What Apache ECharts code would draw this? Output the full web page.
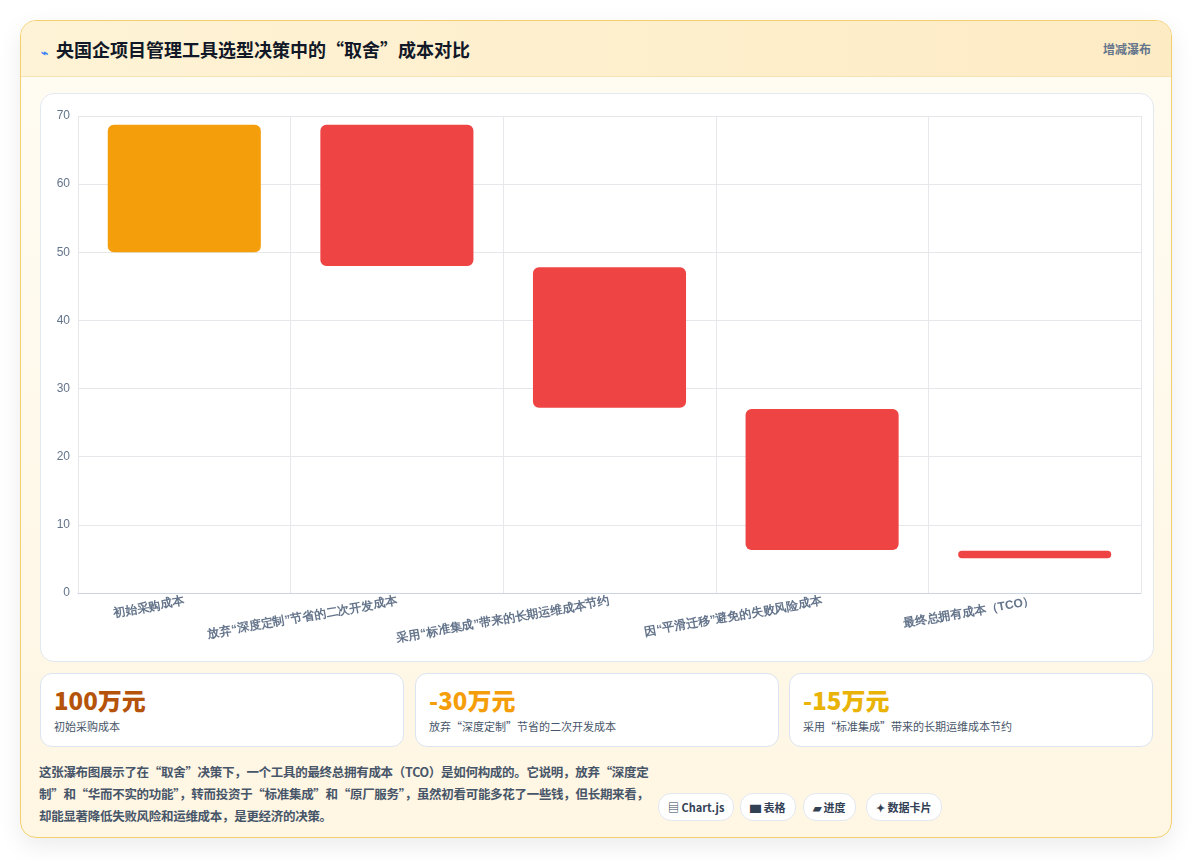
<!DOCTYPE html>
<html><head><meta charset="utf-8">
<script src="https://cdn.jsdelivr.net/npm/echarts@6/dist/echarts.min.js"></script>
<style>
body{margin:0;background:#fff;font-family:"Noto Sans CJK SC","Noto Sans",sans-serif;}
.card{position:absolute;left:20px;top:20px;width:1150px;height:816px;border:1px solid #f3cf6e;border-radius:16px;background:linear-gradient(#fffcf3,#fff6e3);box-shadow:0 8px 24px rgba(0,0,0,.08);overflow:hidden}
.head{height:55px;background:linear-gradient(90deg,#fef3d6,#fdebc4);border-bottom:1px solid #f6e3b5;display:flex;align-items:center;padding:0 20px;justify-content:space-between}
.head h1{margin:0;font-size:18px;font-weight:700;color:#111827}
.head span{font-size:12px;color:#64748b;font-weight:700}
.panel{position:absolute;left:19px;top:72px;width:1112px;height:567px;background:#fff;border:1px solid #e2e8f0;border-radius:14px}
#chart{position:absolute;left:0;top:0;width:1112px;height:567px}
.stat{position:absolute;top:652px;width:362px;height:72px;background:#fff;border:1px solid #dbe4f0;border-radius:12px}
.stat b{position:absolute;left:13px;top:8px;font-size:24px;font-weight:800}
.stat i{position:absolute;left:13px;top:44px;font-size:11px;font-style:normal;color:#475569}
.desc{position:absolute;left:18px;top:740px;width:610px;font-size:12.5px;line-height:22px;color:#475569;font-weight:600;letter-spacing:-0.3px}
.btn{position:absolute;top:772px;height:26px;line-height:26px;padding:0 9px;font-size:11px;font-weight:700;color:#334155;background:#fff;border:1px solid #e2e8f0;border-radius:13px}
</style></head><body>
<div class="card">
 <div class="head"><h1><span style="color:#3b82f6;font-size:12px;margin-right:8px">⌁</span>央国企项目管理工具选型决策中的“取舍”成本对比</h1><span>增减瀑布</span></div>
 <div class="panel"><div id="chart"></div></div>
 <div class="stat" style="left:19px"><b style="color:#b45309">100万元</b><i>初始采购成本</i></div>
 <div class="stat" style="left:394px"><b style="color:#f59e0b">-30万元</b><i>放弃“深度定制”节省的二次开发成本</i></div>
 <div class="stat" style="left:768px"><b style="color:#eab308">-15万元</b><i>采用“标准集成”带来的长期运维成本节约</i></div>
 <div class="desc">这张瀑布图展示了在“取舍”决策下，一个工具的最终总拥有成本（TCO）是如何构成的。它说明，放弃“深度定制”和“华而不实的功能”，转而投资于“标准集成”和“原厂服务”，虽然初看可能多花了一些钱，但长期来看，却能显著降低失败风险和运维成本，是更经济的决策。</div>
 <div class="btn" style="left:637px">▤ Chart.js</div>
 <div class="btn" style="left:719px">▆ 表格</div>
 <div class="btn" style="left:782px">▰ 进度</div>
 <div class="btn" style="left:845px">✦ 数据卡片</div>
</div>
<script>
var categories = ['初始采购成本', '放弃“深度定制”节省的二次开发成本', '采用“标准集成”带来的长期运维成本节约', '因“平滑迁移”避免的失败风险成本', '最终总拥有成本（TCO）'];
var barBase = [50, 48, 27.2, 6.3, 5.1];
var barTop = [68.7, 68.7, 47.8, 27, 6.2];
var barColors = ['#f59e0b', '#ef4444', '#ef4444', '#ef4444', '#ef4444'];

var chart = echarts.init(document.getElementById('chart'));
chart.setOption({
  animation: false,
  grid: { left: 37, right: 12, top: 22, bottom: 68 },
  xAxis: {
    type: 'category', data: categories,
    axisLine: { lineStyle: { color: '#cbd5e1' } },
    axisTick: { show: false },
    splitLine: { show: true, lineStyle: { color: '#e5e7eb' } },
    axisLabel: { rotate: 10, interval: 0, color: '#64748b', fontSize: 12, fontWeight: 'bold', margin: 8 }
  },
  yAxis: {
    type: 'value', min: 0, max: 70, interval: 10,
    axisLine: { show: false },
    axisLabel: { color: '#64748b', fontSize: 12 },
    splitLine: { lineStyle: { color: '#e5e7eb' } }
  },
  series: [
    { type: 'bar', stack: 'w', data: barBase, itemStyle: { color: 'transparent' }, barWidth: '72%' },
    { type: 'bar', stack: 'w', barWidth: '72%',
      data: barTop.map((v, i) => ({ value: v - barBase[i], itemStyle: { color: barColors[i], borderRadius: 6 } })) }
  ]
});
</script>
</body></html>
